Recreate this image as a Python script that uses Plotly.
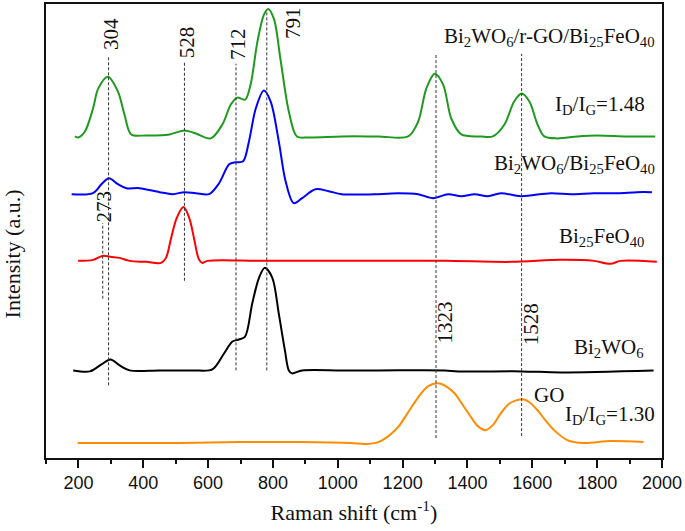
import plotly.graph_objects as go

# ---- data (Raman shift in cm^-1, intensity in a.u. incl. vertical offset) ----
green_x = [189,199,220,245,261,291,322,342,363,409,481,527,562,608,644,670,690,714,731,752,772,785,803,823,849,874,910,1012,1125,1217,1248,1273,1299,1325,1350,1381,1442,1478,1514,1544,1567,1591,1616,1637,1677,1739,1800,1892,1979]
green_y = [327,326,332,355,375,387,372,349,329,328,329,333,330,325,339,359,366,364,379,422,449,455,445,405,352,327,326,327,327,327,342,375,390,379,345,329,327,327,339,362,370,362,339,327,325,327,328,327,327]

blue_x = [179,245,271,294,322,348,388,450,491,527,562,603,634,665,685,708,726,747,772,793,818,839,864,890,931,972,1012,1125,1186,1248,1294,1340,1381,1422,1463,1503,1565,1657,1718,1790,1862,1923,1969]
blue_y = [269,270,279,285,279,275,275,271,269,271,270,269,280,299,301,302,322,355,373,362,322,282,260,265,274,272,269,269,270,269,265,269,267,269,267,270,267,270,269,270,270,271,271]

red_x = [199,245,274,302,327,358,409,455,470,486,503,524,542,557,571,581,598,757,961,1125,1330,1534,1688,1790,1841,1872,1984]
red_y = [202,203,207,206,205,202,201,200,205,225,245,256,245,224,204,200,202,202,202,202,202,201,203,202,199,202,201]

black_x = [184,235,271,299,327,358,450,552,613,649,675,695,714,736,757,775,798,818,837,849,859,890,1012,1125,1330,1371,1567,1688,1974]
black_y = [92,91,98,103,97,92,92,92,93,109,121,123,126,159,185,195,185,149,112,92,89,92,92,92,92,91,91,90,92]

orange_x = [198,502,695,880,1040,1085,1125,1156,1186,1217,1248,1278,1309,1334,1360,1386,1411,1432,1456,1478,1503,1530,1570,1591,1616,1640,1667,1708,1759,1841,1943]
orange_y = [19,19,20,20,19,18,20,26,35,50,65,76,79,76,69,57,45,36,32,37,49,59,63,60,52,42,32,22,19,21,20]

ref_pos = [275, 293, 527, 686, 781, 1303, 1567]
ref_labels = ["273", "304", "528", "712", "791", "1323", "1528"]

SUB = "<sub style='font-size:18px'>{}</sub>"
sample_names = [
    "Bi<sub>2</sub>WO<sub>6</sub>/r-GO/Bi<sub>25</sub>FeO<sub>40</sub>",
    "I" + SUB.format("D") + "/I" + SUB.format("G") + "=1.48",
    "Bi<sub>2</sub>WO<sub>6</sub>/Bi<sub>25</sub>FeO<sub>40</sub>",
    "Bi<sub>25</sub>FeO<sub>40</sub>",
    "Bi<sub>2</sub>WO<sub>6</sub>",
    "GO",
    "I" + SUB.format("D") + "/I" + SUB.format("G") + "=1.30",
]

tick_vals = [200, 400, 600, 800, 1000, 1200, 1400, 1600, 1800, 2000]

# ---- figure ----
SERIF = "Liberation Serif, Times New Roman, serif"
fig = go.Figure()

series = [
    (green_x, green_y, "#1f9a1f"),
    (blue_x, blue_y, "#0000ff"),
    (red_x, red_y, "#ff0000"),
    (black_x, black_y, "#000000"),
    (orange_x, orange_y, "#ff8c00"),
]
for xs, ys, col in series:
    fig.add_trace(go.Scatter(x=xs, y=ys, mode="lines",
                             line=dict(color=col, width=2, shape="spline", smoothing=0.9),
                             showlegend=False, hoverinfo="skip"))

# dashed reference lines (y extents are layout positions)
line_spans = [(164, 240), (77, 407), (182, 402), (92, 400), (92, 454), (24, 410), (26, 410)]
for xp, (y0, y1) in zip(ref_pos, line_spans):
    fig.add_shape(type="line", x0=xp, x1=xp, y0=y0, y1=y1, xref="x", yref="y",
                  line=dict(color="#333333", width=1, dash="3px,2px"))

# rotated peak labels
label_xy = [(280, 257), (301, 430), (533, 422), (693, 420), (862, 441), (1330, 140), (1595, 138)]
for txt, (lx, ly) in zip(ref_labels, label_xy):
    fig.add_annotation(x=lx, y=ly, text=txt, textangle=-90, showarrow=False,
                       xanchor="center", yanchor="middle",
                       font=dict(family=SERIF, size=21, color="#111111"))

# sample names
name_pos = [(1985, 427, "right"), (1955, 359, "right"), (1985, 299, "right"),
            (1950, 226, "right"), (1950, 114, "right"), (1650, 67, "center"),
            (1985, 47, "right")]
for txt, (nx, ny, anc) in zip(sample_names, name_pos):
    fig.add_annotation(x=nx, y=ny, text=txt, showarrow=False, xanchor=anc, yanchor="middle",
                       font=dict(family=SERIF, size=21, color="#111111"))

# y-axis title as annotation (off-centre in reference)
fig.add_annotation(x=-0.054, y=0.45, xref="paper", yref="paper", text="Intensity (a.u.)",
                   textangle=-90, showarrow=False, xanchor="center", yanchor="middle",
                   font=dict(family=SERIF, size=22, color="#111111"))

fig.update_layout(
    width=685, height=531,
    margin=dict(l=46, r=23, t=2, b=73),
    paper_bgcolor="white", plot_bgcolor="white",
)
fig.update_xaxes(
    range=[100, 2000], tickvals=tick_vals,
    ticks="outside", ticklen=8, tickwidth=1.5, tickcolor="#111111",
    minor=dict(dtick=100, tick0=0, ticks="outside", ticklen=4, tickwidth=1.5, tickcolor="#111111"),
    showline=True, linecolor="#111111", linewidth=1.5, mirror=True,
    showgrid=False, zeroline=False,
    tickfont=dict(family="Liberation Sans, Arial, sans-serif", size=18, color="#111111"),
    title=dict(text="Raman shift (cm<sup>-1</sup>)", standoff=12,
               font=dict(family=SERIF, size=22, color="#111111")),
)
fig.update_yaxes(
    range=[4, 460], showticklabels=False, ticks="",
    showline=True, linecolor="#111111", linewidth=1.5, mirror=True,
    showgrid=False, zeroline=False,
)

fig.write_html("out.html", config={"displayModeBar": False},
               post_script="document.body.style.margin='0';document.body.style.overflow='hidden';")
